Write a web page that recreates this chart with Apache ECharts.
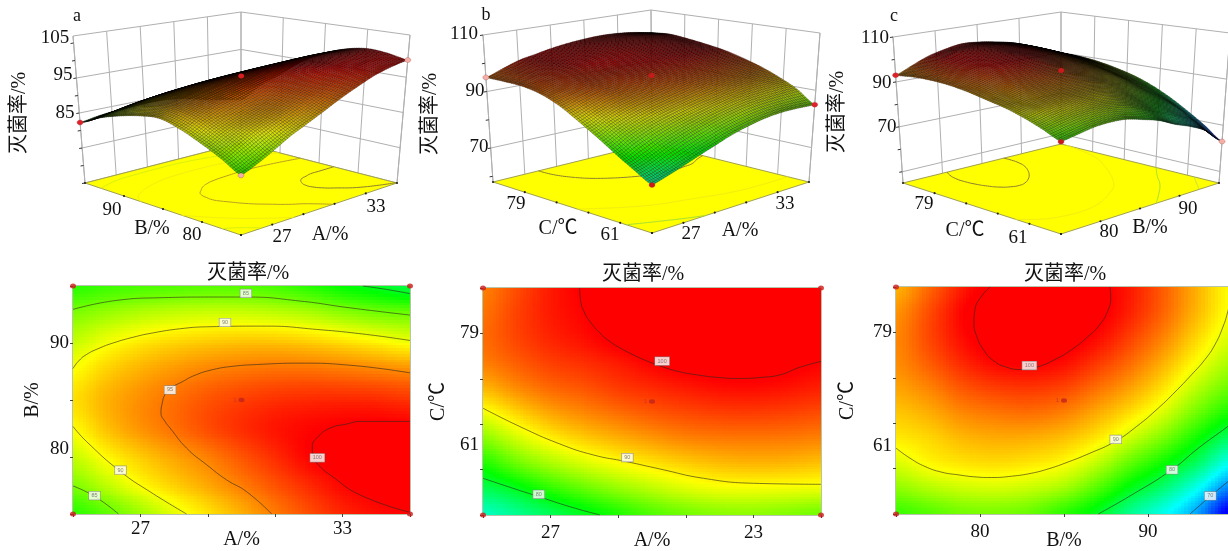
<!DOCTYPE html>
<html><head><meta charset="utf-8">
<style>html,body{margin:0;padding:0;background:#fff;overflow:hidden}#c{width:1228px;height:551px}</style>
<script src="https://cdn.jsdelivr.net/npm/echarts@6/dist/echarts.min.js"></script>
</head><body><div id="c"></div>
<script>
// ---------- values ----------
const colsA = [25,26,27,28,29,30,31,32,33,34,35];
const rowsB = [95,92.5,90,87.5,85,82.5,80,77.5,75];
const rowsC = [88,83,78,73,68,63,58,53,48,43];
const colsB = [75,77,79,81,83,85,87,89,91,93,95];

const gridAB = [
 [82.3,83,83.5,83.8,84,83.9,83.4,82.3,81,80,78.8],
 [85.5,86.5,87.4,88,88.3,88.3,87.9,87.3,86.2,85.3,84.9],
 [88,89.6,90.8,91.6,92.1,92.4,92.4,92,91.3,90.5,89.6],
 [90,91.8,93.1,94.1,94.9,95.4,95.7,95.7,95.4,95,94.6],
 [91.2,93,94.4,95.6,96.7,97.5,98.1,98.4,98.5,98.4,98],
 [90.1,92.4,94.2,95.6,97,98.2,99.2,99.8,100.2,100.4,100.3],
 [88,90.2,92,93.6,95,96.7,98.3,99.9,100.6,101.2,101.4],
 [85.5,87.7,90,91.8,93.4,95.1,96.8,98.4,99.8,100.6,101],
 [82.5,84.3,86.6,89.1,91.1,93.1,95.2,97,98.6,99.5,99.9]
];
const gridAC = [
 [95,97,99,100.2,101.4,102.3,102.9,103.2,103,102.3,101.2],
 [95.5,97.4,99,100,101.2,102.2,102.9,103.2,103.1,102.5,101.7],
 [95.8,97.3,98.6,99.5,100.6,101.5,102.2,102.4,102.3,101.8,101],
 [95,96.3,97.5,98.2,99,100,100.7,101,101,100.7,100],
 [92.8,94.5,95.9,96.7,97.7,98.4,99,99.5,99.6,99.3,98.8],
 [89.4,91.5,93.4,94.6,95.6,96.5,97.1,97.5,97.6,97.4,97],
 [85.8,88.3,90.4,91.9,93,94,94.8,95.2,95.3,95.2,94.9],
 [81.9,84.6,86.8,88.5,89.8,90.9,91.8,92.5,92.8,92.7,92.3],
 [78.3,80,82.4,84.4,86.1,87.5,88.7,89.4,89.5,89.4,89.2],
 [75,76.5,78.3,80.2,82,83.8,85,85.8,86,85.6,85]
];
const gridBC = [
 [93,96,99,100.9,102.2,101.8,100.6,99,96.3,93,89.9],
 [94.2,97,99.9,102,102.6,102,100.6,98.7,96,92.7,89.7],
 [94.7,97.2,99.6,101.2,101.8,101,99.7,97.5,94.8,91.5,88.7],
 [94.5,96.4,98.5,99.9,100.2,99.6,97.9,95.8,93,89.8,87],
 [93.6,94.9,96.7,97.7,98,97.4,95.7,93.7,91,87.5,84.8],
 [92.2,93.2,94.7,95.4,95.7,95,93.3,91.2,88.5,84.8,81.7],
 [90.8,91.6,92.8,93.3,93.2,92.5,90.9,88.2,85.2,81.4,77.8],
 [88.7,90.2,91,91.3,90.9,90,87.7,84.3,81.2,77.8,73.2],
 [86,87.3,88.2,88.5,88,86.7,83.9,80.3,77.3,73.3,68.3],
 [83,84,85.1,85.3,84.6,82.5,80.1,76.5,73.5,69.5,63]
];

const contoursAB = [
 {level:85,pts:[[25,92.95],[26.3,93.74],[27.58,93.97],[29.16,94.03],[30.15,94.03],[31.74,93.68],[33.2,93.09],[35,92.45]]},
 {level:80,pts:[[33.6,95],[34.3,94.7],[35,94.33]]},
 {level:90,pts:[[25,87.76],[25.16,88.4],[25.4,88.99],[25.8,89.57],[26.2,90.01],[26.79,90.51],[27.38,90.89],[28.18,91.25],[28.97,91.42],[30.75,91.48],[32.23,91.19],[33.71,90.75],[35,90.22]]},
 {level:90,pts:[[25,82.68],[25.4,81.36],[26.41,78.72],[27.28,76.96],[28.37,75]]},
 {level:85,pts:[[25,77.46],[25.65,76.53],[26.35,75]]},
 {level:95,pts:[[30.9,75],[30.15,76.96],[29.56,77.99],[28.97,79.31],[28.37,80.78],[27.88,82.54],[27.73,83.12],[27.61,83.86],[27.65,84.74],[27.73,85.47],[27.93,86.11],[28.18,86.5],[28.62,87.17],[29.16,87.67],[29.76,87.96],[30.45,88.11],[31.74,88.23],[33.22,88.05],[35,87.38]]},
 {level:100,pts:[[35,83.12],[34.01,83.12],[33.52,83.12],[33.12,82.89],[32.63,82.54],[32.28,81.8],[32.1,80.92],[32.13,80.04],[32.38,79.02],[32.63,78.43],[33.52,76.67],[35,75.15]]}
];
const contoursAC = [
 {level:100,pts:[[27.86,88],[27.89,85.35],[28.01,83.03],[28.16,81.38],[28.46,79.06],[28.75,77.41],[29.1,75.95],[29.44,74.76],[29.84,73.56],[30.28,72.45],[30.77,71.47],[31.32,70.79],[31.96,70.26],[32.6,70.07],[33.19,70.26],[33.79,70.79],[34.38,72.3],[35,73.44]]},
 {level:90,pts:[[25,64.17],[26.09,60.53],[27.27,57.09],[28.26,54.91],[29.24,53.59],[30.23,52.13],[31.52,50.28],[33,49.29],[35,49.09]]},
 {level:80,pts:[[25,50.28],[25.89,48.29],[26.65,46.64],[27.57,44.65],[28.46,43]]}
];
const contoursBC = [
 {level:100,pts:[[80.6,88],[80.1,86.21],[79.7,83.56],[79.64,80.91],[79.8,78.26],[80.2,75.61],[80.79,73.42],[81.59,72.1],[82.48,71.63],[83.37,72.1],[84.46,73.62],[85.46,75.6],[86.35,77.93],[87.14,80.58],[87.6,83.23],[87.78,85.88],[87.74,88]]},
 {level:90,pts:[[75,56.06],[75.83,54.07],[76.73,52.41],[77.72,51.29],[78.71,50.76],[79.7,50.36],[80.69,50.23],[81.88,50.49],[83.08,51.09],[84.07,51.95],[85.06,53.08],[86.55,55.06],[88.04,57.38],[89.33,60.37],[90.62,64.01],[91.61,67.19],[92.6,70.64],[93.39,73.62],[93.99,76.6],[94.48,80.25],[94.76,83.23],[95,86.5]]},
 {level:80,pts:[[87.04,43],[89.03,46.78],[91.41,51.75],[93,56.06],[94.76,60.37],[95,61]]},
 {level:70,pts:[[92.5,43],[93.69,46.45],[94.76,49.43],[95,50.1]]}
];
const contourLabelsAB = [[30.13,94.35,85],[29.51,91.8,90],[27.88,85.88,95],[26.41,78.84,90],[25.64,76.61,85],[32.25,79.93,100]];
const contourLabelsAC = [[30.3,73.5,100],[29.27,54.38,90],[26.65,47.1,80]];
const contourLabelsBC = [[82.94,72.43,100],[88.08,57.78,90],[91.43,51.75,80],[93.71,46.58,70]];

const ticksA = [25,27,29,31,33,35];
const ticksB = [75,80,85,90,95];
const ticksC = [43,52,61,70,79,88];
const zTicksAB = [65,70,75,80,85,90,95,100,105];
const zTicksAC = [60,70,80,90,100,110];
const zTicksBC = [50,60,70,80,90,100,110];
const dotColours = {a:['#e0202a','#f4b0a8','#f4b0a8','#d81f1f'],b:['#f4b0a8','#c81a1a','#e0202a','#c81a1a'],c:['#e0202a','#c81a1a','#f4b0a8','#c81a1a']};
const titleText = '灭菌率/%';

// ---------- layout ----------
const SERIF = '"Liberation Serif","Noto Sans CJK SC",serif';
const tickFont = {fontSize:19,fontFamily:SERIF,color:'#111'};
const panels = [
 {id:'a',xs:colsA,ys:rowsB,g:gridAB,contours:contoursAB,labels:contourLabelsAB,xTicks:ticksA,yTicks:ticksB,xMargin:6,xGap:16,yGap:30,
  xLabel:{27:'27',33:'33'},yLabel:{90:'{n|90}',80:'{up|80}'},rich:{n:tickFont,up:Object.assign({padding:[0,0,16,0]},tickFont)},
  rect:[73,286,337,228],zr:[65,107],zTicks:zTicksAB,wallZ:[65,75,85,95,107],
  F:[241,235],L:[85,183],R:[397,183],K:[241,143],Ft:[241,92],Lt:[73,36],Rt:[410,35],Kt:[241,12]},
 {id:'b',xs:colsA,ys:rowsC,g:gridAC,contours:contoursAC,labels:contourLabelsAC,xTicks:ticksA,yTicks:ticksC,xMargin:9,xGap:16,yGap:34,
  xLabel:{27:'27',33:'23'},yLabel:{79:'{n|79}',61:'{down|61}'},rich:{n:tickFont,down:Object.assign({padding:[42,0,0,0]},tickFont)},
  rect:[483,288,338,227],zr:[58,110],zTicks:zTicksAC,wallZ:[70,90,110],
  F:[652,233],L:[493,182],R:[809,182],K:[652,143],Ft:[652,86],Lt:[483,35],Rt:[820,33],Kt:[651,10]},
 {id:'c',xs:colsB,ys:rowsC,g:gridBC,contours:contoursBC,labels:contourLabelsBC,xTicks:[75,80,85,90,95],yTicks:ticksC,xMargin:9,xGap:17,yGap:38,
  xLabel:{80:'80',90:'90'},yLabel:{79:'{n|79}',61:'{down|61}'},rich:{n:tickFont,down:Object.assign({padding:[46,0,0,0]},tickFont)},
  rect:[896,287,336,227],zr:[45,110],zTicks:zTicksBC,wallZ:[50,70,90,110],
  F:[1061,234],L:[903,183],R:[1219,183],K:[1061,144],Ft:[1061,76],Lt:[893,37],Rt:[1230,33],Kt:[1061,12]}
];

const floorLine = {100:'#8d8030',95:'#b9a020',90:'#f2ee10',85:'#d8f010',80:'#a8e030',70:'#c0e040'};

// ---------- helpers ----------
const stops = [[64,[0,0,255]],[73,[0,255,255]],[81,[0,255,0]],[90,[255,255,0]],[100,[255,0,0]]];
function rgbOf(v){
  if(v<=stops[0][0])return [0,0,255];
  for(let i=1;i<stops.length;i++){
    if(v<=stops[i][0]){
      const a=stops[i-1],b=stops[i],t=(v-a[0])/(b[0]-a[0]);
      return [0,1,2].map(k=>a[1][k]+(b[1][k]-a[1][k])*t);
    }
  }
  return [255,0,0];
}
function colour(v,f){const c=rgbOf(v),m=f===undefined?1:f;return 'rgb('+c.map(x=>Math.round(x*m)).join(',')+')';}
function cr(a,b,c,d,t){return 0.5*(2*b+(c-a)*t+(2*a-5*b+4*c-d)*t*t+(3*b-a-3*c+d)*t*t*t);}
function shade(g,u,v){ // smooth shading between the read grid values
  const R=g.length-1,C=g[0].length-1,i=Math.min(Math.floor(u),C-1),j=Math.min(Math.floor(v),R-1),tu=u-i,tv=v-j;
  const row=r=>{const q=g[Math.max(0,Math.min(R,r))];const p=k=>q[Math.max(0,Math.min(C,k))];return cr(p(i-1),p(i),p(i+1),p(i+2),tu);};
  return cr(row(j-1),row(j),row(j+1),row(j+2),tv);
}
function bil(k,a,b,c,d,fx,gy){return a[k]*(1-fx)*(1-gy)+b[k]*fx*(1-gy)+c[k]*(1-fx)*gy+d[k]*fx*gy;}
function proj(p,fx,gy,z){
  const t=(z-p.zr[0])/(p.zr[1]-p.zr[0]);
  return [0,1].map(k=>{
    const lo=bil(k,p.F,p.R,p.L,p.K,fx,gy),hi=bil(k,p.Ft,p.Rt,p.Lt,p.Kt,fx,gy);
    return lo+(hi-lo)*t;
  });
}
function fxOf(p,x){const a=p.xs[0],b=p.xs[p.xs.length-1];return (x-a)/(b-a);}
function gyOf(p,y){const a=p.ys[p.ys.length-1],b=p.ys[0];return (y-a)/(b-a);}
function areaOf(q){let s=0;for(let i=0;i<4;i++){const a=q[i],b=q[(i+1)%4];s+=a[0]*b[1]-b[0]*a[1];}return Math.abs(s)/2;}

// ---------- series ----------
const series=[],grids=[],xAxes=[],yAxes=[];
panels.forEach((p,n)=>{
  grids.push({left:p.rect[0],top:p.rect[1],width:p.rect[2],height:p.rect[3],outerBoundsMode:'none',show:true,borderColor:'#6f8a55',borderWidth:1,backgroundColor:'transparent'});
  const xmin=p.xs[0],xmax=p.xs[p.xs.length-1],ymax=p.ys[0],ymin=p.ys[p.ys.length-1];
  xAxes.push({type:'value',gridIndex:n,min:xmin,max:xmax,splitLine:{show:false},axisLine:{show:false},
    axisTick:{show:true,length:3,customValues:p.xTicks,lineStyle:{color:'#444',width:1}},
    axisLabel:{customValues:Object.keys(p.xLabel).map(Number),formatter:v=>p.xLabel[v]||'',fontSize:19,fontFamily:SERIF,color:'#111',margin:p.xMargin},
    name:n===2?'B/%':'A/%',nameLocation:'middle',nameGap:p.xGap,nameMoveOverlap:false,nameTextStyle:{fontSize:20,fontFamily:SERIF,color:'#111'}});
  yAxes.push({type:'value',gridIndex:n,min:ymin,max:ymax,splitLine:{show:false},axisLine:{show:false},
    axisTick:{show:true,length:3,customValues:p.yTicks,lineStyle:{color:'#444',width:1}},
    axisLabel:{customValues:Object.keys(p.yLabel).map(Number),formatter:v=>p.yLabel[v]||'',rich:p.rich,fontSize:19,fontFamily:SERIF,color:'#111',margin:4},
    name:n===0?'B/%':'C/℃',nameLocation:'middle',nameGap:p.yGap,nameMoveOverlap:false,nameTextStyle:{fontSize:20,fontFamily:SERIF,color:'#111'}});
  const cells=[];
  for(let j=0;j<p.ys.length-1;j++)for(let i=0;i<p.xs.length-1;i++)cells.push([i,j]);
  series.push({type:'custom',xAxisIndex:n,yAxisIndex:n,data:cells,silent:true,animation:false,progressive:0,clip:true,z:1,
    renderItem(params,api){
      const i=api.value(0),j=api.value(1),N=10,ch=[];
      for(let a=0;a<N;a++)for(let b=0;b<N;b++){
        const u0=i+a/N,u1=i+(a+1)/N,v0=j+b/N,v1=j+(b+1)/N;
        const xv=t=>{const k=Math.min(Math.floor(t),p.xs.length-2);return p.xs[k]+(p.xs[k+1]-p.xs[k])*(t-k);};
        const yv=t=>{const k=Math.min(Math.floor(t),p.ys.length-2);return p.ys[k]+(p.ys[k+1]-p.ys[k])*(t-k);};
        const c0=api.coord([xv(u0),yv(v0)]),c1=api.coord([xv(u1),yv(v1)]);
        const x0=Math.floor(c0[0]),y0=Math.floor(c0[1]),x1=Math.ceil(c1[0]),y1=Math.ceil(c1[1]);
        ch.push({type:'rect',shape:{x:x0,y:y0,width:x1-x0,height:y1-y0},style:{fill:colour(shade(p.g,(u0+u1)/2,(v0+v1)/2))}});
      }
      return {type:'group',children:ch};
    }});
  p.contours.forEach(ct=>series.push({type:'line',xAxisIndex:n,yAxisIndex:n,data:ct.pts,smooth:0.5,symbol:'none',silent:true,animation:false,z:3,
    lineStyle:{color:'rgba(45,40,30,0.6)',width:1}}));
  series.push({type:'scatter',xAxisIndex:n,yAxisIndex:n,data:p.labels,symbolSize:1,itemStyle:{color:'transparent'},silent:true,animation:false,z:5,
    label:{show:true,position:'inside',formatter:o=>String(o.value[2]),fontSize:5.5,color:'#666',backgroundColor:'#fff',borderColor:'#888',borderWidth:0.6,padding:[1,2.5]}});
  const mx=(xmin+xmax)/2,my=n===0?85:65.5;
  series.push({type:'scatter',xAxisIndex:n,yAxisIndex:n,data:[[xmin,ymin],[xmax,ymin],[xmin,ymax],[xmax,ymax]],symbol:'circle',symbolSize:[6,5],itemStyle:{color:'#cc1a1a'},clip:false,silent:true,animation:false,z:6});
  series.push({type:'scatter',xAxisIndex:n,yAxisIndex:n,data:[[mx,my]],symbol:'circle',symbolSize:[6,4.5],itemStyle:{color:'#c0241c'},silent:true,animation:false,z:6,
    label:{show:true,position:'left',distance:2,formatter:'1',fontSize:6,color:'#b33'}});
});

// hidden pixel-scaled plane for the projected 3D panels
grids.push({left:0,top:0,width:1228,height:551,outerBoundsMode:'none',show:false});
xAxes.push({type:'value',gridIndex:3,min:0,max:1228,show:false});
yAxes.push({type:'value',gridIndex:3,min:0,max:551,inverse:true,show:false});

panels.forEach((p,n)=>{
  const common={type:'custom',xAxisIndex:3,yAxisIndex:3,silent:true,animation:false,progressive:0,clip:false};
  const yt=n===0?ticksB:ticksC;
  series.push(Object.assign({},common,{data:[[0]],z:10,renderItem(params,api){
    const ch=[],C=q=>api.coord(q);
    const line=(a,b,col,w)=>ch.push({type:'line',shape:{x1:C(a)[0],y1:C(a)[1],x2:C(b)[0],y2:C(b)[1]},style:{stroke:col||'#b0b0b0',lineWidth:w||1}});
    p.xTicks.forEach(x=>{const f=fxOf(p,x);line(proj(p,f,1,p.zr[0]),proj(p,f,1,p.zr[1]));});
    yt.forEach(y=>{const g=gyOf(p,y);line(proj(p,1,g,p.zr[0]),proj(p,1,g,p.zr[1]));});
    line(proj(p,0,1,p.zr[0]),proj(p,0,1,p.zr[1]));
    line(proj(p,1,0,p.zr[0]),proj(p,1,0,p.zr[1]));
    p.wallZ.forEach(z=>{line(proj(p,0,1,z),proj(p,1,1,z));line(proj(p,1,1,z),proj(p,1,0,z));});
    p.zTicks.forEach(z=>{const a=proj(p,0,1,z);line(a,[a[0]-3,a[1]+0.5],'#333',1);});
    ch.push({type:'polygon',shape:{points:[p.F,p.R,p.K,p.L].map(C)},style:{fill:'#ffff00',stroke:'#a0a050',lineWidth:1}});
    p.contours.forEach(ct=>{
      ch.push({type:'polyline',shape:{smooth:0.5,points:ct.pts.map(q=>C(proj(p,fxOf(p,q[0]),gyOf(p,q[1]),p.zr[0])))},style:{stroke:floorLine[ct.level],lineWidth:1,fill:null}});
    });
    p.xTicks.forEach(x=>{const a=proj(p,fxOf(p,x),0,p.zr[0]);ch.push({type:'circle',shape:{cx:C(a)[0],cy:C(a)[1],r:1.1},style:{fill:'#222'}});});
    yt.forEach(y=>{const a=proj(p,0,gyOf(p,y),p.zr[0]);ch.push({type:'circle',shape:{cx:C(a)[0],cy:C(a)[1],r:1.1},style:{fill:'#222'}});});
    return {type:'group',children:ch};
  }}));
  const items=[];
  for(let i=p.xs.length-2;i>=0;i--)for(let j=0;j<p.ys.length-1;j++)items.push([i,j]);
  const C_=p.xs.length-1,R_=p.ys.length-1;
  const sx=Math.round(75/C_),sy=Math.round(75/R_);
  series.push(Object.assign({},common,{data:items,z:11,renderItem(params,api){
    const i=api.value(0),j=api.value(1),ch=[];
    for(let a=sx-1;a>=0;a--)for(let b=0;b<sy;b++){
      const u0=i+a/sx,u1=i+(a+1)/sx,v0=j+b/sy,v1=j+(b+1)/sy;
      const P=(u,v)=>api.coord(proj(p,u/C_,1-v/R_,shade(p.g,u,v)));
      const q=[P(u0,v0),P(u1,v0),P(u1,v1),P(u0,v1)];
      const f=Math.min(1,Math.sqrt(areaOf(q)/10));
      ch.push({type:'polygon',shape:{points:q},
        style:{fill:colour(shade(p.g,(u0+u1)/2,(v0+v1)/2),f),stroke:'rgba(0,0,0,0.6)',lineWidth:0.4}});
    }
    return {type:'group',children:ch};
  }}));
  const cols=dotColours[p.id];
  series.push(Object.assign({},common,{data:[[0,1,0],[0,0,1],[1,0,2],[0.5,0.5,3]],z:12,renderItem(params,api){
    const f=api.value(0),g=api.value(1),k=api.value(2);
    const z=shade(p.g,f*C_,(1-g)*R_),c=api.coord(proj(p,f,g,z));
    return {type:'ellipse',shape:{cx:c[0],cy:c[1],rx:3,ry:2.5},style:{fill:cols[k],stroke:k===3?null:'rgba(150,60,60,0.6)',lineWidth:0.5}};
  }}));
});

// ---------- text ----------
const T=(text,x,y,size,rot)=>({type:'text',x,y,rotation:rot||0,z:50,silent:true,style:{text,fontSize:size,fontFamily:SERIF,fill:'#111',align:'center',verticalAlign:'middle'}});
const R90=Math.PI/2;
const texts=[
 ['a',77,16,18],['b',486,15,18],['c',894,16,18],
 [titleText,20,113,20,R90],[titleText,431,114,20,R90],[titleText,838,112,20,R90],
 ['105',55,38,19],['95',63,75,19],['85',65,113,19],
 ['110',464,34,19],['90',475,91,19],['70',479,147,19],
 ['110',875,38,19],['90',882,83,19],['70',887,127,19],
 ['90',112,210,19],['80',192,235,19],['B/%',152,229,20],['27',282,237,19],['33',376,207,19],['A/%',330,235,20],
 ['79',516,204,19],['61',610,235,19],['C/℃',558,229,20],['27',691,234,19],['33',785,204,19],['A/%',740,231,20],
 ['79',924,204,19],['61',1018,238,19],['C/℃',965,231,20],['80',1109,232,19],['90',1188,209,19],['B/%',1150,228,20],
 [titleText,248,274,20],[titleText,643,275,20],[titleText,1065,275,20]
].map(a=>T.apply(null,a));

const chart=echarts.init(document.getElementById('c'),null,{renderer:'canvas'});
chart.setOption({animation:false,backgroundColor:'#fff',grid:grids,xAxis:xAxes,yAxis:yAxes,series,graphic:texts});
</script></body></html>
